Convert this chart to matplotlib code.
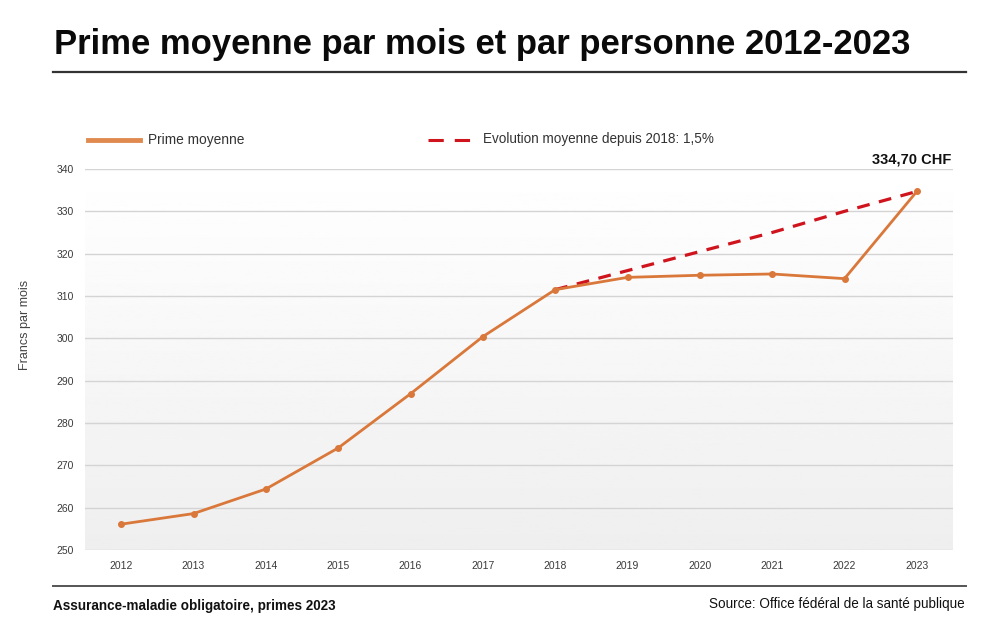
import numpy as np
import matplotlib.pyplot as plt
from matplotlib.lines import Line2D

plt.rcParams['font.family'] = ['Liberation Sans', 'DejaVu Sans']

years = [2012, 2013, 2014, 2015, 2016, 2017, 2018, 2019, 2020, 2021, 2022, 2023]
prime = [256.1, 258.6, 264.4, 274.1, 286.9, 300.4, 311.5, 314.4, 314.9, 315.2, 314.1, 334.7]
trend_years = [2018, 2019, 2020, 2021, 2022, 2023]
trend = [311.5, 316.0, 320.5, 325.0, 330.0, 334.7]

orange = "#d9783a"
red = "#d0141e"

fig = plt.figure(figsize=(10.04, 6.43), dpi=100)
W, H = 1004, 643


def fx(px):
    return px / W


def fy(py):
    return 1 - py / H


ax = fig.add_axes([fx(85), fy(550), fx(953) - fx(85), fy(169) - fy(550)])

# soft vertical gradient in the plot area
grad = np.linspace(1.0, 0.935, 256).reshape(-1, 1)
ax.imshow(grad, cmap="gray", vmin=0, vmax=1, aspect="auto",
          extent=(2011.5, 2023.5, 250, 340), zorder=0)

ax.set_xlim(2011.5, 2023.5)
ax.set_ylim(250, 340)
ax.set_yticks(range(250, 341, 10))
ax.set_xticks(years)
ax.grid(axis="y", color="#d4d4d4", linewidth=1.0, zorder=1)
ax.set_axisbelow(True)
for s in ax.spines.values():
    s.set_visible(False)
ax.tick_params(length=0, labelsize=7.5, labelcolor="#3a3a3a", pad=8)
ax.tick_params(axis="y", pad=8)

ax.plot(trend_years, trend, color=red, linewidth=2.3, linestyle=(0, (4, 3)), zorder=3)
ax.plot(years, prime, color=orange, linewidth=2.0, marker="o", markersize=4, zorder=4)

ax.text(2023.48, 340.6, "334,70 CHF", ha="right", va="bottom",
        fontsize=10.5, fontweight="bold", color="#111111")

fig.text(fx(25), fy(325), "Francs par mois", rotation=90, ha="center", va="center",
         fontsize=9, color="#444444")

# legend drawn by hand as figure lines
fig.add_artist(Line2D([fx(88), fx(140)], [fy(140), fy(140)], color="#e08a50", linewidth=3.5))
fig.text(fx(148), fy(140), "Prime moyenne", ha="left", va="center", fontsize=9.9, color="#333333")
fig.add_artist(Line2D([fx(428), fx(470)], [fy(140), fy(140)], color=red, linewidth=2.2,
                      linestyle=(0, (5, 3.6))))
fig.text(fx(483), fy(139), "Evolution moyenne depuis 2018: 1,5%", ha="left", va="center",
         fontsize=9.75, color="#333333")

# title and rules
fig.text(fx(54), fy(54), "Prime moyenne par mois et par personne 2012-2023",
         ha="left", va="baseline", fontsize=24.95, fontweight="bold", color="#0a0a0a")
fig.add_artist(Line2D([fx(53), fx(966)], [fy(72), fy(72)], color="#333333", linewidth=1.6))
fig.add_artist(Line2D([fx(53), fx(966)], [fy(586), fy(586)], color="#555555", linewidth=1.4))

fig.text(fx(53), fy(610), "Assurance-maladie obligatoire, primes 2023", ha="left",
         va="baseline", fontsize=9.75, fontweight="bold", color="#111111")
fig.text(fx(965), fy(608), "Source: Office fédéral de la santé publique", ha="right",
         va="baseline", fontsize=9.75, color="#111111")

fig.savefig("out.png", dpi=100)
